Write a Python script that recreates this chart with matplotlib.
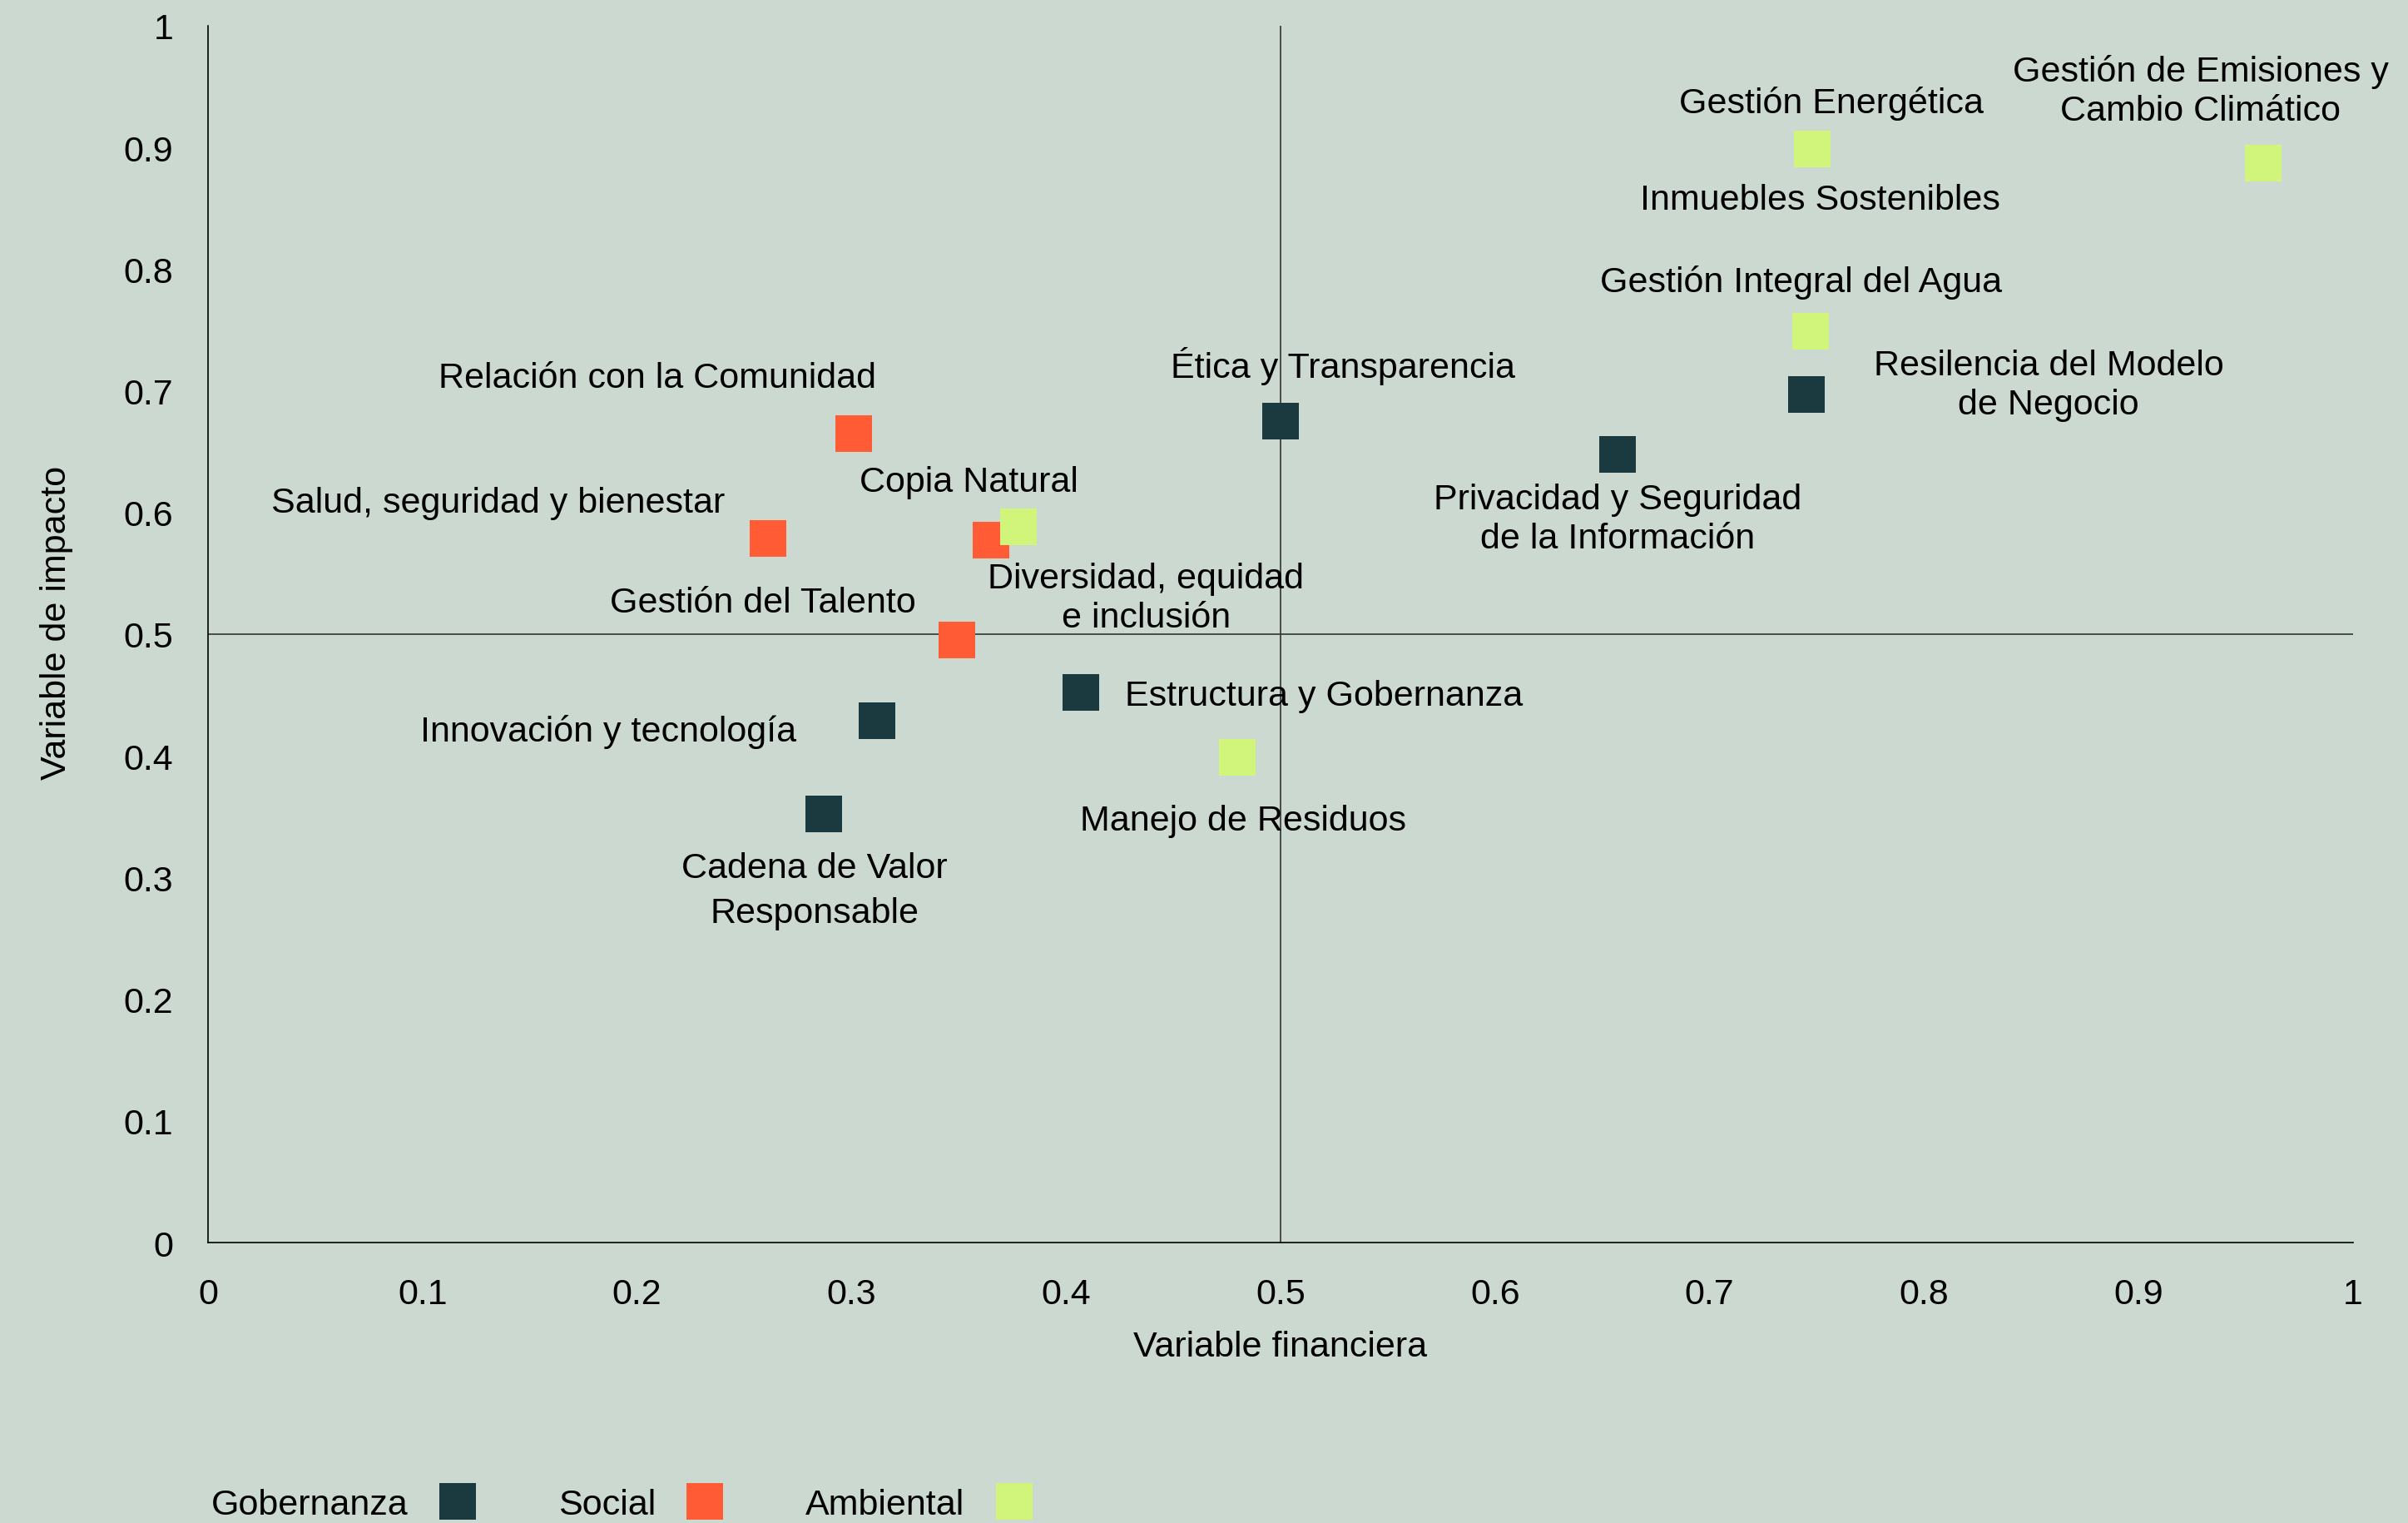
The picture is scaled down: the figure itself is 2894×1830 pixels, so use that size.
import matplotlib
matplotlib.use("Agg")
import numpy as np
import matplotlib.pyplot as plt
from matplotlib.lines import Line2D

plt.rcParams['font.family'] = ['Liberation Sans', 'DejaVu Sans']

# x = variable financiera, y = variable de impacto
gob_names = ['Ética y Transparencia', 'Resilencia del Modelo\nde Negocio',
             'Privacidad y Seguridad\nde la Información', 'Estructura y Gobernanza',
             'Innovación y tecnología', 'Cadena de Valor\nResponsable']
gob_x = [0.500, 0.745, 0.657, 0.407, 0.312, 0.287]
gob_y = [0.675, 0.697, 0.648, 0.452, 0.429, 0.352]

soc_names = ['Relación con la Comunidad', 'Salud, seguridad y bienestar',
             'Diversidad, equidad\ne inclusión', 'Gestión del Talento']
soc_x = [0.301, 0.261, 0.365, 0.349]
soc_y = [0.665, 0.579, 0.577, 0.495]

amb_names = ['Gestión Energética', 'Gestión de Emisiones y\nCambio Climático',
             'Inmuebles Sostenibles', 'Gestión Integral del Agua',
             'Copia Natural', 'Manejo de Residuos']
amb_x = [0.748, 0.958, 0.748, 0.747, 0.378, 0.480]
amb_y = [0.899, 0.887, 0.899, 0.749, 0.588, 0.399]

groups = ['Gobernanza', 'Social', 'Ambiental']
ticks = [i / 10 for i in range(11)]

# label placement: offset in points from the marker, horizontal alignment
label_pos = {
    'Ética y Transparencia': (27, 24, 'center'),
    'Resilencia del Modelo\nde Negocio': (105, 4, 'center'),
    'Privacidad y Seguridad\nde la Información': (0, -28, 'center'),
    'Estructura y Gobernanza': (19, -1.5, 'left'),
    'Innovación y tecnología': (-35, -4.5, 'right'),
    'Cadena de Valor\nResponsable': (-4, -33, 'center'),
    'Relación con la Comunidad': (-85, 24, 'center'),
    'Salud, seguridad y bienestar': (-18.4, 15.3, 'right'),
    'Diversidad, equidad\ne inclusión': (67, -25, 'center'),
    'Gestión del Talento': (-84, 16.3, 'center'),
    'Gestión Energética': (8, 20, 'center'),
    'Gestión de Emisiones y\nCambio Climático': (-27, 31.5, 'center'),
    'Inmuebles Sostenibles': (3.3, -22, 'center'),
    'Gestión Integral del Agua': (-4, 21.5, 'center'),
    'Copia Natural': (-21.6, 19.5, 'center'),
    'Manejo de Residuos': (2.2, -27.5, 'center'),
}

bg = '#cbd9d0'
colors = ['#1b3a40', '#ff5c35', '#d1f57a']
fs = 15.5

fig = plt.figure(figsize=(14.47, 9.155), dpi=200, facecolor=bg)
ax = fig.add_axes([250 / 2894, 1 - 1494 / 1831, 2578 / 2894, 1462 / 1831])
ax.set_facecolor(bg)

ax.axhline(0.5, color='#333333', lw=0.6, zorder=1)
ax.axvline(0.5, color='#333333', lw=0.6, zorder=1)

series = [(gob_names, gob_x, gob_y), (soc_names, soc_x, soc_y), (amb_names, amb_x, amb_y)]
for (names, xs, ys), c in zip(series, colors):
    ax.scatter(xs, ys, marker='s', s=16 ** 2, color=c, linewidths=0, zorder=3, clip_on=False)
    for n, x, y in zip(names, xs, ys):
        dx, dy, ha = label_pos[n]
        ls = 1.45 if n.startswith('Cadena') else 1.22
        ax.annotate(n, (x, y), xytext=(dx, dy), textcoords='offset points',
                    ha=ha, va='center', fontsize=fs, linespacing=ls,
                    multialignment='center', zorder=4)

ax.set_xlim(0, 1)
ax.set_ylim(0, 1)
ax.set_xticks(ticks)
ax.set_yticks(ticks)
ax.set_xticklabels([f'{t:g}' for t in ticks])
ax.set_yticklabels([f'{t:g}' for t in ticks])
ax.tick_params(length=0, labelsize=fs)
ax.tick_params(axis='x', pad=15)
ax.tick_params(axis='y', pad=15)
for s in ['top', 'right']:
    ax.spines[s].set_visible(False)
for s in ['left', 'bottom']:
    ax.spines[s].set_linewidth(0.6)
    ax.spines[s].set_color('black')

ax.set_xlabel('Variable financiera', fontsize=fs)
ax.set_ylabel('Variable de impacto', fontsize=fs)
ax.xaxis.set_label_coords(0.5, -0.072)
ax.yaxis.set_label_coords(-0.063, 0.51)

handles = [Line2D([], [], ls='none', marker='s', ms=16, color=c, mew=0) for c in colors]
fig.legend(handles, groups, loc='lower left', bbox_to_anchor=(254 / 2894, 2 / 1831),
           ncol=3, frameon=False, markerfirst=False, handlelength=1.0,
           handletextpad=0.88, columnspacing=2.3, borderpad=0, borderaxespad=0,
           fontsize=fs)

fig.savefig('out.png', dpi=200, facecolor=bg)
